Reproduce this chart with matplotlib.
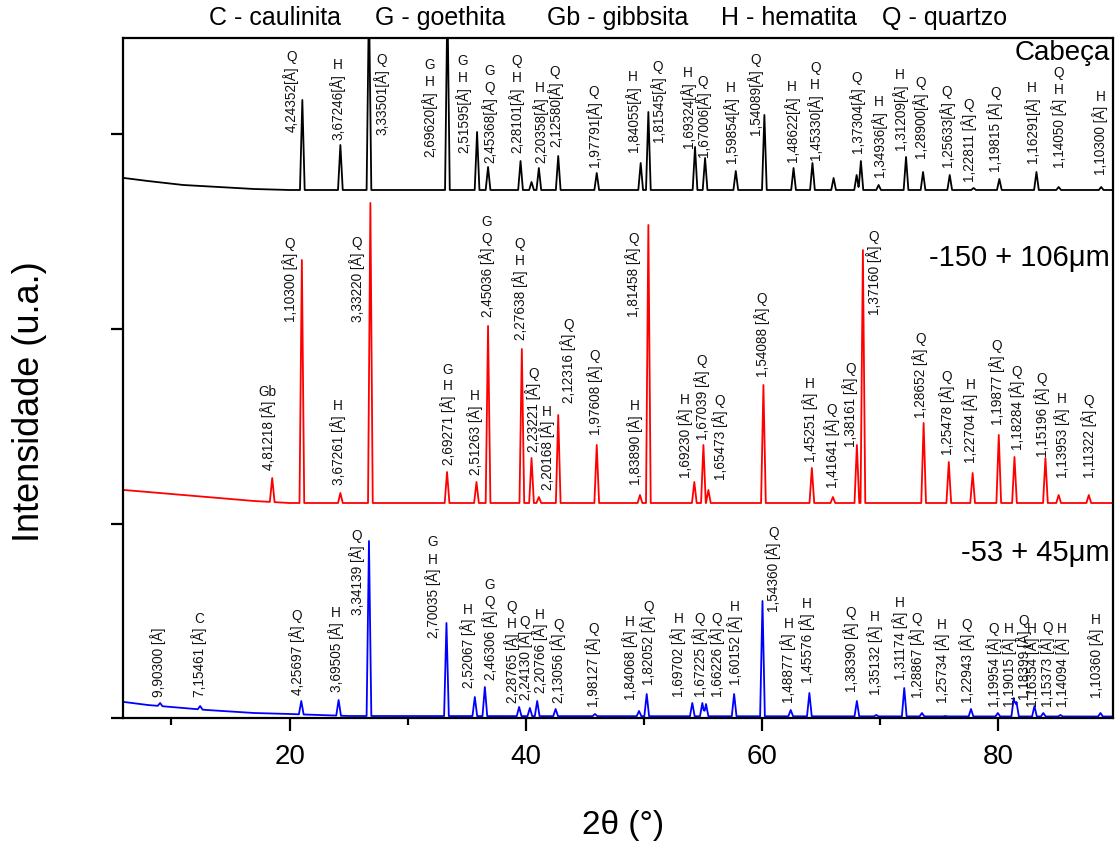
import numpy as np
import matplotlib
matplotlib.use('Agg')
import matplotlib.pyplot as plt
from matplotlib.ticker import MultipleLocator
from matplotlib import font_manager as fm

names = {f.name for f in fm.fontManager.ttflist}
FONT = 'Liberation Sans'
NARROW = 'Liberation Sans Narrow' if 'Liberation Sans Narrow' in names else FONT
plt.rcParams['font.family'] = [FONT, 'DejaVu Sans']

# ---- data: 2theta (deg) and intensity (u.a., traces offset) ----
# Cabeca (black)
blk_bg_x = [6, 8, 11, 14, 17, 20, 89.8]
blk_bg_y = [540, 537, 533, 531, 529, 528, 528]
blk_pk_x = [21.08, 24.30, 26.72, 33.36, 35.87, 36.80, 39.55, 40.48, 41.10, 42.74, 46.00,
            49.72, 50.37, 54.32, 55.17, 57.77, 60.19, 62.66, 64.26, 66.05, 68.00, 68.36,
            69.86, 72.18, 73.62, 75.88, 77.90, 80.08, 83.22, 85.10, 88.70]
blk_pk_y = [618, 573, 720, 720, 586, 551, 557, 536, 550, 562, 545,
            555, 606, 571, 560, 547, 603, 550, 555, 540, 543, 557,
            533, 561, 546, 543, 530, 539, 546, 531, 531]

# -150 + 106 um (red)
red_bg_x = [6, 8, 11, 14, 17, 20, 89.8]
red_bg_y = [228, 226, 223, 220, 217, 215, 215]
red_pk_x = [18.53, 21.04, 24.30, 26.84, 33.33, 35.82, 36.80, 39.66, 40.48, 41.10, 42.74,
            46.00, 49.66, 50.37, 54.26, 55.03, 55.45, 60.11, 64.21, 65.99, 68.02, 68.53,
            73.67, 75.80, 77.82, 80.03, 81.36, 83.98, 85.10, 87.65]
red_pk_y = [240, 458, 225, 515, 246, 236, 392, 369, 260, 221, 303,
            273, 223, 493, 236, 273, 228, 333, 250, 221, 273, 468,
            295, 256, 245, 283, 261, 260, 223, 223]

# -53 + 45 um (blue)
blu_bg_x = [6, 8, 10, 13, 17, 20, 25, 89.8]
blu_bg_y = [16, 13, 11, 8, 5, 4, 2, 1.5]
blu_pk_x = [9.04, 12.43, 20.99, 24.15, 26.72, 33.28, 35.68, 36.53, 39.43, 40.34, 40.96,
            42.52, 45.85, 49.58, 50.23, 54.09, 54.94, 55.25, 57.63, 60.03, 62.42, 64.00,
            68.02, 69.66, 72.03, 73.53, 75.51, 77.68, 79.95, 81.30, 81.53, 83.05, 83.80,
            85.25, 88.64]
blu_pk_y = [15, 12, 17, 18, 177, 95, 21, 31, 11, 10, 17,
            9, 4, 7, 24, 15, 15, 14, 24, 117, 8, 25,
            17, 3, 30, 5, 2, 9, 5, 20, 16, 12, 5,
            3, 5]

# peak labels: d-spacing and phases
blk_lab_x = [20.14, 24.07, 27.77, 31.86, 34.69, 36.95, 39.24, 41.19, 42.46, 45.76, 49.07,
             51.19, 53.73, 55.00, 57.35, 59.41, 62.52, 64.49, 68.03, 69.86, 71.69, 73.39,
             75.65, 77.48, 79.75, 82.86, 85.11, 88.64]
blk_lab_y = [586, 578, 583, 561, 565, 555, 565, 555, 571, 551, 566,
             576, 570, 561, 555, 583, 556, 558, 565, 541, 568, 560,
             551, 536, 546, 555, 550, 543]
blk_lab_d = ['4,24352[Å]', '3,67246[Å]', '3,33501[Å]', '2,69620[Å]', '2,51595[Å]',
             '2,45368[Å]', '2,28101[Å]', '2,20358[Å]', '2,12580[Å]', '1,97791[Å]',
             '1,84055[Å]', '1,81545[Å]', '1,69324[Å]', '1,67006[Å]', '1,59854[Å]',
             '1,54089[Å]', '1,48622[Å]', '1,45330[Å]', '1,37304[Å]', '1,34936[Å]',
             '1,31209[Å]', '1,28900[Å]', '1,25633[Å]', '1,22811 [Å]', '1,19815 [Å]',
             '1,16291[Å]', '1,14050 [Å]', '1,10300 [Å]']
blk_lab_ph = ['Q', 'H', 'Q', 'H G', 'H G', 'Q G', 'H Q', 'H', 'Q', 'Q', 'H', 'Q', 'H', 'Q',
              'H', 'Q', 'H', 'H Q', 'Q', 'H', 'H', 'Q', 'Q', 'Q', 'Q', 'H', 'H Q', 'H']

red_lab_x = [18.16, 20.00, 24.09, 25.70, 33.42, 35.68, 36.67, 39.49, 40.62, 41.75, 43.58,
             45.85, 49.24, 49.09, 53.47, 54.89, 56.44, 59.97, 64.07, 65.91, 67.46, 69.43,
             73.39, 75.65, 77.63, 79.89, 81.58, 83.70, 85.40, 87.65]
red_lab_y = [248, 396, 233, 396, 253, 243, 401, 378, 266, 228, 315,
             283, 233, 401, 240, 278, 238, 341, 256, 230, 271, 403,
             300, 263, 255, 293, 268, 261, 240, 240]
red_lab_d = ['4,81218 [Å]', '1,10300 [Å]', '3,67261 [Å]', '3,33220 [Å]', '2,69271 [Å]',
             '2,51263 [Å]', '2,45036 [Å]', '2,27638 [Å]', '2,23221 [Å]', '2,20168 [Å]',
             '2,12316 [Å]', '1,97608 [Å]', '1,83890 [Å]', '1,81458 [Å]', '1,69230 [Å]',
             '1,67039 [Å]', '1,65473 [Å]', '1,54088 [Å]', '1,45251 [Å]', '1,41641 [Å]',
             '1,38161 [Å]', '1,37160 [Å]', '1,28652 [Å]', '1,25478 [Å]', '1,22704 [Å]',
             '1,19877 [Å]', '1,18284 [Å]', '1,15196 [Å]', '1,13953 [Å]', '1,11322 [Å]']
red_lab_ph = ['Gb', 'Q', 'H', 'Q', 'H G', 'H', 'Q G', 'H Q', 'Q', 'H', 'Q', 'Q', 'H', 'Q',
              'H', 'Q', 'Q', 'Q', 'H', 'Q', 'Q', 'Q', 'Q', 'Q', 'H', 'Q', 'Q', 'Q', 'H', 'Q']

blu_lab_x = [8.84, 12.37, 20.62, 23.90, 25.70, 32.14, 35.11, 36.95, 38.79, 39.92, 41.19,
             42.74, 45.70, 48.81, 50.36, 52.91, 54.75, 56.16, 57.71, 60.96, 62.23, 63.79,
             67.52, 69.58, 71.69, 73.11, 75.23, 77.35, 79.60, 80.87, 82.14, 82.86, 84.13,
             85.40, 88.22]
blu_lab_y = [21, 21, 23, 26, 103, 80, 30, 38, 15, 18, 25,
             15, 11, 18, 33, 21, 21, 21, 33, 106, 15, 35,
             26, 23, 38, 20, 15, 15, 11, 11, 18, 11, 11,
             11, 20]
blu_lab_d = ['9,90300 [Å]', '7,15461 [Å]', '4,25697 [Å]', '3,69505 [Å]', '3,34139 [Å]',
             '2,70035 [Å]', '2,52067 [Å]', '2,46306 [Å]', '2,28765 [Å]', '2,24130 [Å]',
             '2,20766 [Å]', '2,13056 [Å]', '1,98127 [Å]', '1,84068 [Å]', '1,82052 [Å]',
             '1,69702 [Å]', '1,67225 [Å]', '1,66226 [Å]', '1,60152 [Å]', '1,54360 [Å]',
             '1,48877 [Å]', '1,45576 [Å]', '1,38390 [Å]', '1,35132 [Å]', '1,31174 [Å]',
             '1,28867 [Å]', '1,25734 [Å]', '1,22943 [Å]', '1,19954 [Å]', '1,19015 [Å]',
             '1,18399 [Å]', '1,16354 [Å]', '1,15373 [Å]', '1,14094 [Å]', '1,10360 [Å]']
blu_lab_ph = ['', 'C', 'Q', 'H', 'Q', 'H G', 'H', 'Q G', 'H Q', 'Q', 'H', 'Q', 'Q', 'H',
              'Q', 'H', 'Q', 'Q', 'H', 'Q', 'H', 'H', 'Q', 'H', 'H', 'Q', 'H', 'Q', 'Q',
              'H', 'Q', 'H', 'Q', 'H', 'H']

legend_items = ['C - caulinita', 'G - goethita', 'Gb - gibbsita', 'H - hematita', 'Q - quartzo']
sample_names = ['Cabeça', '-150 + 106μm', '-53 + 45μm']


def pattern(bg_x, bg_y, pk_x, pk_y, w=0.2):
    pk_x = np.asarray(pk_x, float)
    base = np.interp(pk_x, bg_x, bg_y)
    h = np.asarray(pk_y, float) - base
    xs = np.unique(np.concatenate([bg_x, pk_x - w, pk_x, pk_x + w]))
    ys = np.interp(xs, bg_x, bg_y)
    for p, hh in zip(pk_x, h):
        ys = ys + np.clip(hh * (1 - np.abs(xs - p) / w), 0, None)
    return xs, ys


fig = plt.figure(figsize=(11.15, 8.47), dpi=100)
ax = fig.add_axes([123 / 1115, 129 / 847, 990 / 1115, 680 / 847])

traces = [
    (blk_bg_x, blk_bg_y, blk_pk_x, blk_pk_y, 'black',
     blk_lab_x, blk_lab_y, blk_lab_d, blk_lab_ph),
    (red_bg_x, red_bg_y, red_pk_x, red_pk_y, '#ff0000',
     red_lab_x, red_lab_y, red_lab_d, red_lab_ph),
    (blu_bg_x, blu_bg_y, blu_pk_x, blu_pk_y, '#0000ff',
     blu_lab_x, blu_lab_y, blu_lab_d, blu_lab_ph),
]

for bgx, bgy, pkx, pky, col, lx, ly, ld, lph in traces:
    xs, ys = pattern(bgx, bgy, pkx, pky)
    ax.plot(xs, ys, color=col, lw=1.3)
    for x, y, d, ph in zip(lx, ly, ld, lph):
        t = ax.text(x, y, d, rotation=90, ha='center', va='bottom',
                    fontsize=9.8, color='#111111')
        for k, ch in enumerate(ph.split()):
            ax.annotate(ch, xy=(0.5, 1), xycoords=t, xytext=(0, 9 + 17 * k),
                        textcoords='offset pixels', ha='center', va='center',
                        fontsize=9.8, color='#111111')

ax.text(0.997, 0.978, sample_names[0], transform=ax.transAxes, ha='right', va='center', fontsize=20)
ax.text(0.997, 0.676, sample_names[1], transform=ax.transAxes, ha='right', va='center', fontsize=21)
ax.text(0.997, 0.2426, sample_names[2], transform=ax.transAxes, ha='right', va='center', fontsize=21)

ax.set_xlim(5.9, 89.7)
ax.set_ylim(0, 680)
ax.xaxis.set_major_locator(MultipleLocator(20))
ax.xaxis.set_minor_locator(MultipleLocator(10))
ax.yaxis.set_major_locator(MultipleLocator(194.5))
ax.set_yticklabels([])
ax.tick_params(axis='x', which='major', direction='out', length=9, width=1.6,
               labelsize=20, pad=10)
ax.tick_params(axis='x', which='minor', direction='out', length=5, width=1.6)
ax.tick_params(axis='y', which='major', direction='out', length=9, width=1.6)
for lab in ax.get_xticklabels():
    lab.set_family([NARROW, FONT])
for s in ax.spines.values():
    s.set_linewidth(1.6)

fig.text(30 / 1115, 1 - 402 / 847, 'Intensidade (u.a.)', rotation=90,
         ha='center', va='center', fontsize=26)
fig.text(623 / 1115, 1 - 825 / 847, '2θ (°)', ha='center', va='center',
         fontsize=24, family=[NARROW, FONT])

leg_x = [209, 375, 547, 721, 882]
for x, s in zip(leg_x, legend_items):
    fig.text(x / 1115, 1 - 18 / 847, s, ha='left', va='center', fontsize=18,
             family=[NARROW, FONT])

fig.savefig('out.png', dpi=100)
